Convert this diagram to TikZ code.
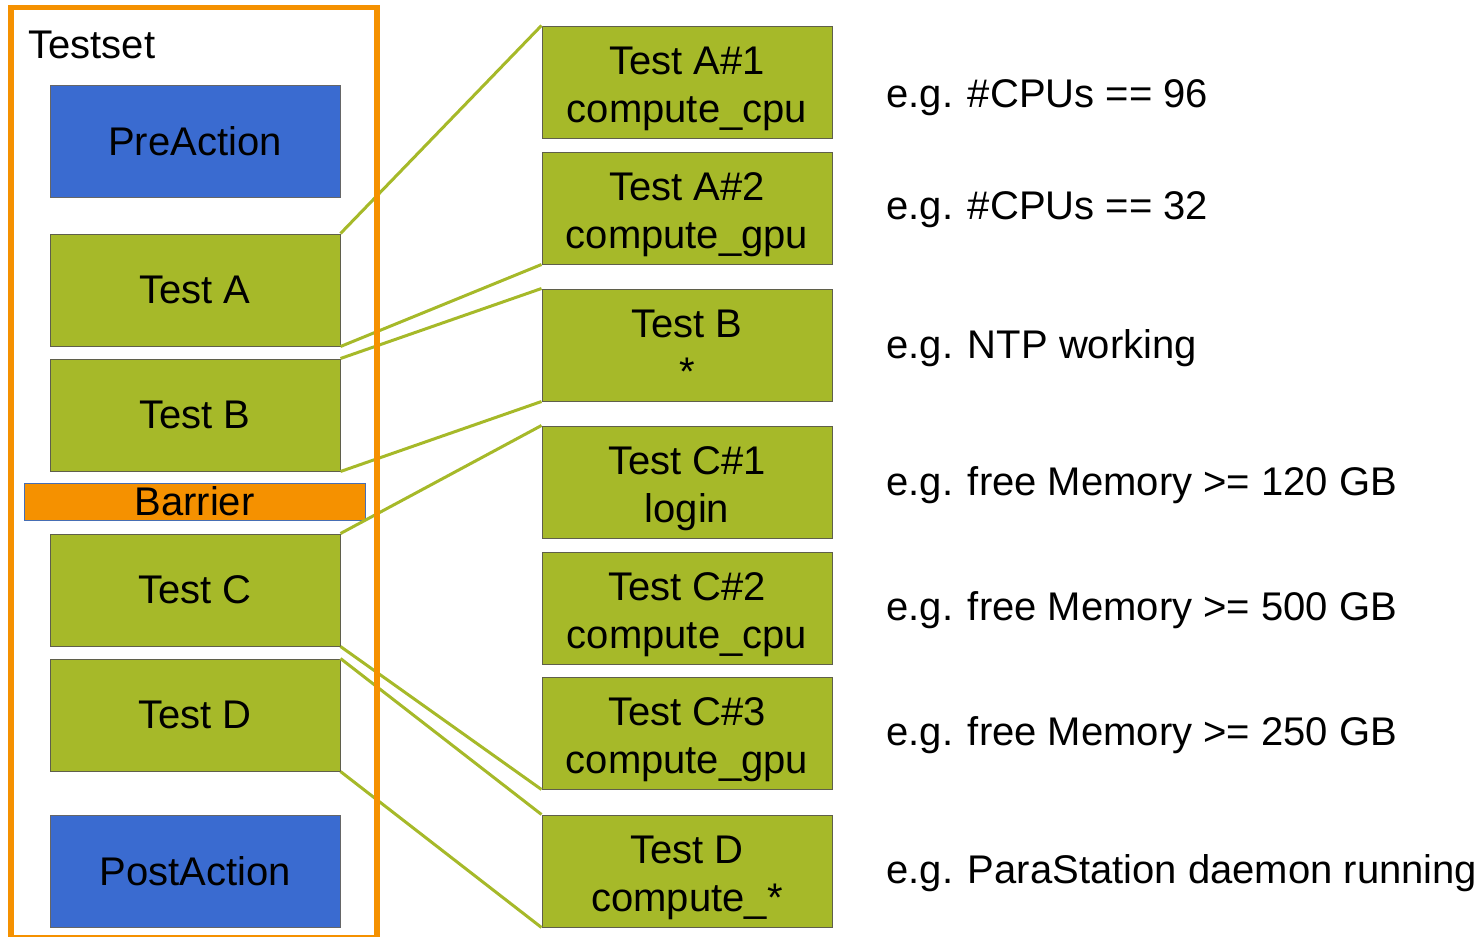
\documentclass[tikz,border=0pt]{standalone}
\usepackage{fontspec}
\setmainfont{Liberation Sans}
\definecolor{testgreen}{RGB}{166,185,41}
\definecolor{actblue}{RGB}{58,107,208}
\definecolor{setorange}{RGB}{245,145,0}
\definecolor{boxedge}{RGB}{95,95,75}
\definecolor{baredge}{RGB}{70,110,180}
\begin{document}
\begin{tikzpicture}[x=0.5pt,y=-0.5pt,
  txt/.style={font=\fontsize{20}{24}\selectfont},
  box/.style={txt, draw=boxedge, line width=0.5pt, minimum width=145pt,
    minimum height=56pt, inner sep=0pt, align=center},
  testbox/.style={box, fill=testgreen},
  % two-line caption set a little below the box centre
  inlabel/.style={txt, align=center, inner sep=0pt, yshift=-3.5pt},
  twoline/.style={testbox, label={[inlabel]center:#1}},
  actbox/.style={box, fill=actblue, draw=gray!80!black},
  barrierbox/.style={txt, draw=baredge, line width=0.5pt, fill=setorange,
    minimum width=170.5pt, minimum height=18.5pt, inner sep=0pt},
  setframe/.style={draw=setorange, line width=2.75pt, minimum width=183pt,
    minimum height=465.25pt, inner sep=0pt},
  link/.style={draw=testgreen, line width=1.5pt},
  note/.style={txt, anchor=base west, inner sep=0pt}]

\useasboundingbox (0,0) rectangle (1478,937);

% test set: ordered steps
\node[actbox]  (pre)  at (195,141) {PreAction};
\node[testbox] (ta)   at (195,290) {Test A};
\node[testbox] (tb)   at (195,415) {Test B};
\node[barrierbox] (bar) at (194.5,501.5) {Barrier};
\node[testbox] (tc)   at (195,590) {Test C};
\node[testbox] (td)   at (195,715) {Test D};
\node[actbox]  (post) at (195,871) {PostAction};

% expanded test instances
\node[twoline={Test A\#1\\compute\_cpu}] (a1) at (687,82)  {};
\node[twoline={Test A\#2\\compute\_gpu}] (a2) at (687,208) {};
\node[testbox, label={[inlabel, yshift=2pt]center:Test B\\*}] (b) at (687,345) {};
\node[twoline={Test C\#1\\login}] (c1) at (687,482) {};
\node[twoline={Test C\#2\\compute\_cpu}] (c2) at (687,608) {};
\node[twoline={Test C\#3\\compute\_gpu}] (c3) at (687,733) {};
\node[twoline={Test D\\compute\_*}] (d)  at (687,871) {};

% example conditions
\node[note] (na1) at (886,107) {e.g. \#CPUs == 96};
\node[note] (na2) at (886,219) {e.g. \#CPUs == 32};
\node[note] (nb)  at (886,358) {e.g. NTP working};
\node[note] (nc1) at (886,495) {e.g. free Memory >= 120 GB};
\node[note] (nc2) at (886,620) {e.g. free Memory >= 500 GB};
\node[note] (nc3) at (886,745) {e.g. free Memory >= 250 GB};
\node[note] (nd)  at (886,883) {e.g. ParaStation daemon running};

% expansion wedges
\draw[link] (ta.north east) -- (a1.north west);
\draw[link] (ta.south east) -- (a2.south west);
\draw[link] (tb.north east) -- (b.north west);
\draw[link] (tb.south east) -- (b.south west);
\draw[link] (tc.north east) -- (c1.north west);
\draw[link] (tc.south east) -- (c3.south west);
\draw[link] (td.north east) -- (d.north west);
\draw[link] (td.south east) -- (d.south west);

% enclosing test set frame
\node[setframe] (set) at (194,472.75) {};
\node[txt, anchor=base west, inner sep=0pt] (settitle) at (28,58) {Testset};
\end{tikzpicture}
\end{document}
